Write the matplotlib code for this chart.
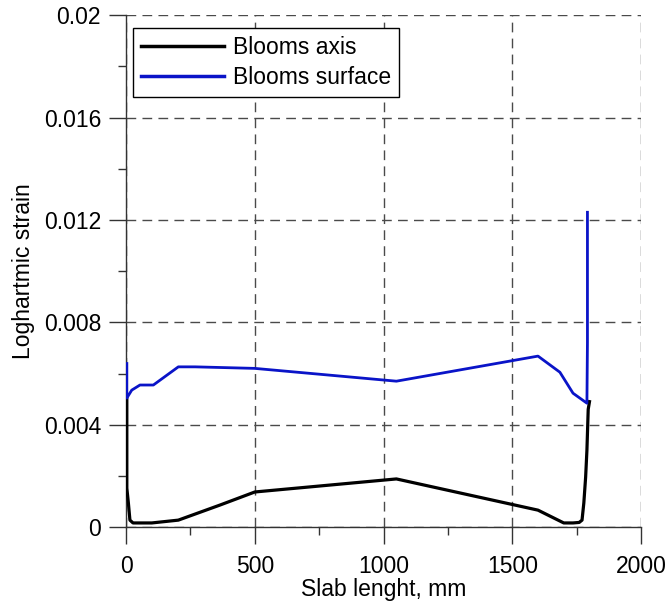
import matplotlib
matplotlib.use("Agg")
import matplotlib.pyplot as plt
from matplotlib.ticker import MultipleLocator

plt.rcParams['font.family'] = ['Liberation Sans', 'DejaVu Sans']

axis_x = [1800, 1795, 1790, 1785, 1778, 1771, 1760, 1736, 1700, 1600, 1050, 500, 365, 203, 100, 27, 15, 9, 3, 3]
axis_y = [0.0049, 0.0046, 0.0030, 0.00195, 0.00094, 0.00027, 0.00018, 0.00016, 0.00016, 0.00066, 0.00188, 0.00137, 0.00086, 0.00027, 0.00016, 0.00016, 0.00027, 0.00094, 0.00152, 0.00504]

surf_x = [3, 3, 22, 54, 106, 203, 268, 500, 1050, 1600, 1685, 1736, 1790, 1792, 1792]
surf_y = [0.00639, 0.00504, 0.00535, 0.00555, 0.00555, 0.00626, 0.00626, 0.0062, 0.0057, 0.00668, 0.00605, 0.00523, 0.00484, 0.0072, 0.0123]

xticks = [0, 500, 1000, 1500, 2000]
yticks = [0, 0.004, 0.008, 0.012, 0.016, 0.02]
ytick_labels = ["0", "0.004", "0.008", "0.012", "0.016", "0.02"]

FS = 16.5

fig = plt.figure(figsize=(6.67, 6.10), dpi=100)
ax = fig.add_axes([0.189, 0.136, 0.772, 0.839])

ax.plot(axis_x, axis_y, color='black', lw=2.3, label='Blooms axis', zorder=3)
ax.plot(surf_x, surf_y, color='#0a14c8', lw=2.0, label='Blooms surface', zorder=3)

ax.set_xlim(0, 2000)
ax.set_ylim(0, 0.02)
ax.set_xticks(xticks)
ax.set_yticks(yticks)
ax.set_yticklabels(ytick_labels)
ax.xaxis.set_minor_locator(MultipleLocator(250))
ax.yaxis.set_minor_locator(MultipleLocator(0.002))

ax.spines['top'].set_visible(False)
ax.spines['right'].set_visible(False)
ax.spines['left'].set_linewidth(1.0)
ax.spines['bottom'].set_linewidth(1.0)
ax.spines['left'].set_color('#333333')
ax.spines['bottom'].set_color('#333333')

ax.tick_params(axis='both', which='major', direction='out', length=12, width=1, labelsize=FS, color='#333333')
ax.tick_params(axis='x', which='major', pad=8)
ax.tick_params(axis='y', which='major', pad=6)
ax.tick_params(axis='both', which='minor', direction='out', length=6, width=1, color='#333333')

ax.grid(True, which='major', color='#4a4a4a', linestyle=(0, (7, 4.5)), linewidth=1.0, zorder=1)

ax.set_xlabel('Slab lenght, mm', fontsize=FS, labelpad=0)
ax.set_ylabel('Loghartmic strain', fontsize=FS, labelpad=6)

leg = ax.legend(loc='upper left', bbox_to_anchor=(0.0136, 0.9746), fontsize=FS, handlelength=3.6,
                frameon=True, fancybox=False, edgecolor='black', borderaxespad=0.0,
                borderpad=0.35, labelspacing=0.3, handletextpad=0.4, framealpha=1)
leg.get_frame().set_linewidth(1.0)
for h in leg.get_lines():
    h.set_linewidth(2.5)

fig.savefig('out.png', dpi=100)
